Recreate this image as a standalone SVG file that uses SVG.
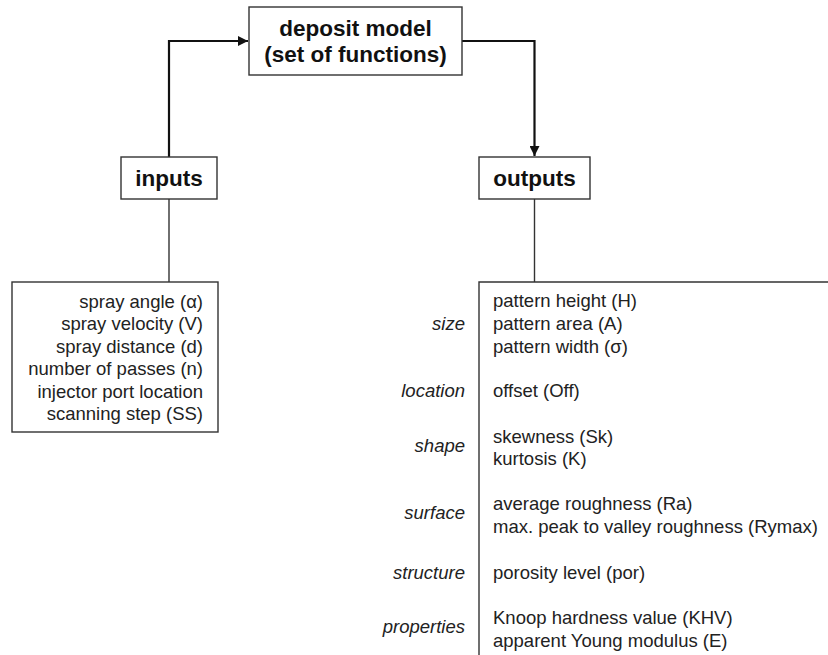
<svg xmlns="http://www.w3.org/2000/svg" width="828" height="655" viewBox="0 0 828 655">
<style>
.box{fill:#fff;stroke:#333;stroke-width:1.4}
.t{font-family:"Liberation Sans",Arial,sans-serif;font-size:18.5px;fill:#222}
.b{font-family:"Liberation Sans",Arial,sans-serif;font-size:22.5px;font-weight:bold;fill:#111}
.i{font-style:italic}
.arr{fill:none;stroke:#111;stroke-width:2.2}
.ln{fill:none;stroke:#333;stroke-width:1.4}
</style>
<defs>
<marker id="ah" viewBox="0 0 10 10" refX="10" refY="5" markerWidth="10" markerHeight="10" markerUnits="userSpaceOnUse" orient="auto">
<path d="M0,0 L10,5 L0,10 Z" fill="#111"/>
</marker>
</defs>
<g id="connectors">
<path class="arr" d="M169,157 V41 H248" marker-end="url(#ah)"/>
<path class="arr" d="M462,41 H534.5 V156" marker-end="url(#ah)"/>
<path class="ln" d="M169,199 V282"/>
<path class="ln" d="M534.5,199 V282"/>
</g>
<g id="model">
<rect class="box" x="249" y="7" width="213" height="68"/>
<text class="b" x="355.5" y="36" text-anchor="middle">deposit model</text>
<text class="b" x="355.5" y="62" text-anchor="middle">(set of functions)</text>
</g>
<g id="inputs">
<rect class="box" x="121" y="157" width="96" height="42"/>
<text class="b" x="169" y="186" text-anchor="middle">inputs</text>
</g>
<g id="outputs">
<rect class="box" x="479" y="157" width="111" height="42"/>
<text class="b" x="534.5" y="186" text-anchor="middle">outputs</text>
</g>
<g id="input-list">
<rect class="box" x="12" y="282" width="206" height="150"/>
<g class="t" text-anchor="end">
<text x="203" y="307.5">spray angle (α)</text>
<text x="203" y="330">spray velocity (V)</text>
<text x="203" y="352.5">spray distance (d)</text>
<text x="203" y="375">number of passes (n)</text>
<text x="203" y="397.5">injector port location</text>
<text x="203" y="420">scanning step (SS)</text>
</g>
</g>
<g id="output-list">
<path class="ln" d="M828,282 H479 V655"/>
<g class="t i" text-anchor="end">
<text x="465" y="330">size</text>
<text x="465" y="397">location</text>
<text x="465" y="452">shape</text>
<text x="465" y="519">surface</text>
<text x="465" y="578.5">structure</text>
<text x="465" y="633">properties</text>
</g>
<g class="t">
<text x="493" y="307">pattern height (H)</text>
<text x="493" y="330">pattern area (A)</text>
<text x="493" y="352.5">pattern width (σ)</text>
<text x="493" y="397">offset (Off)</text>
<text x="493" y="442.5">skewness (Sk)</text>
<text x="493" y="465">kurtosis (K)</text>
<text x="493" y="510">average roughness (Ra)</text>
<text x="493" y="533">max. peak to valley roughness (Rymax)</text>
<text x="493" y="578.5">porosity level (por)</text>
<text x="493" y="623.5">Knoop hardness value (KHV)</text>
<text x="493" y="646.5">apparent Young modulus (E)</text>
</g>
</g>
</svg>
